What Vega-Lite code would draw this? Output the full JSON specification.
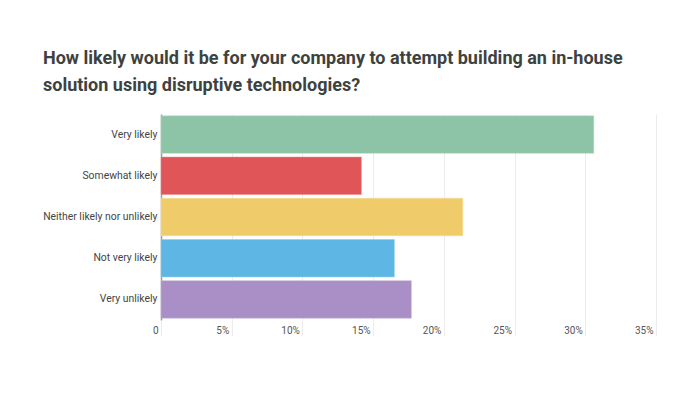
{
  "$schema": "https://vega.github.io/schema/vega-lite/v6.json",
  "autosize": "none",
  "width": 495,
  "height": 206,
  "padding": {"left": 161, "top": 114, "right": 44, "bottom": 76},
  "background": "white",
  "title": {
    "text": ["How likely would it be for your company to attempt building an in-house", "solution using disruptive technologies?"],
    "anchor": "start",
    "frame": "group",
    "dx": -118,
    "offset": 19,
    "font": "Roboto",
    "fontSize": 18,
    "fontWeight": "bold",
    "color": "#3d423f",
    "lineHeight": 27
  },
  "data": {
    "values": [
      {"answer": "Very likely", "share": 0.306},
      {"answer": "Somewhat likely", "share": 0.1417},
      {"answer": "Neither likely nor unlikely", "share": 0.2134},
      {"answer": "Not very likely", "share": 0.165},
      {"answer": "Very unlikely", "share": 0.177}
    ]
  },
  "mark": {"type": "bar", "strokeWidth": 1, "strokeOpacity": 0.5},
  "encoding": {
    "y": {
      "field": "answer",
      "type": "nominal",
      "sort": null,
      "scale": {"paddingInner": 0.09, "paddingOuter": 0.045},
      "axis": {
        "title": null,
        "ticks": false,
        "labelPadding": 4,
        "labelFont": "Roboto",
        "labelFontSize": 10.4,
        "labelColor": "#444444",
        "domainColor": "#9a9a9a",
        "domainWidth": 1.5
      }
    },
    "x": {
      "field": "share",
      "type": "quantitative",
      "scale": {"domain": [0, 0.35], "nice": false},
      "axis": {
        "title": null,
        "values": [0, 0.05, 0.1, 0.15, 0.2, 0.25, 0.3, 0.35],
        "labelExpr": "datum.value === 0 ? '0' : format(datum.value, '.0%')",
        "labelAlign": "right",
        "labelOffset": -3,
        "labelPadding": -11,
        "labelBaseline": "top",
        "labelFont": "Roboto",
        "labelFontSize": 10,
        "labelColor": "#555555",
        "tickSize": 16,
        "tickColor": "#ececec",
        "gridColor": "#ececec",
        "domain": false
      }
    },
    "color": {
      "field": "answer",
      "type": "nominal",
      "sort": null,
      "scale": {
        "domain": ["Very likely", "Somewhat likely", "Neither likely nor unlikely", "Not very likely", "Very unlikely"],
        "range": ["#8dc3a7", "#e05658", "#f0cb69", "#5db6e3", "#a98fc6"]
      },
      "legend": null
    },
    "stroke": {
      "field": "answer",
      "type": "nominal",
      "sort": null,
      "scale": {
        "domain": ["Very likely", "Somewhat likely", "Neither likely nor unlikely", "Not very likely", "Very unlikely"],
        "range": ["#b5dcc8", "#ec8a8b", "#f7dd97", "#8fcdef", "#c6b3da"]
      },
      "legend": null
    }
  },
  "config": {"view": {"stroke": null}}
}
